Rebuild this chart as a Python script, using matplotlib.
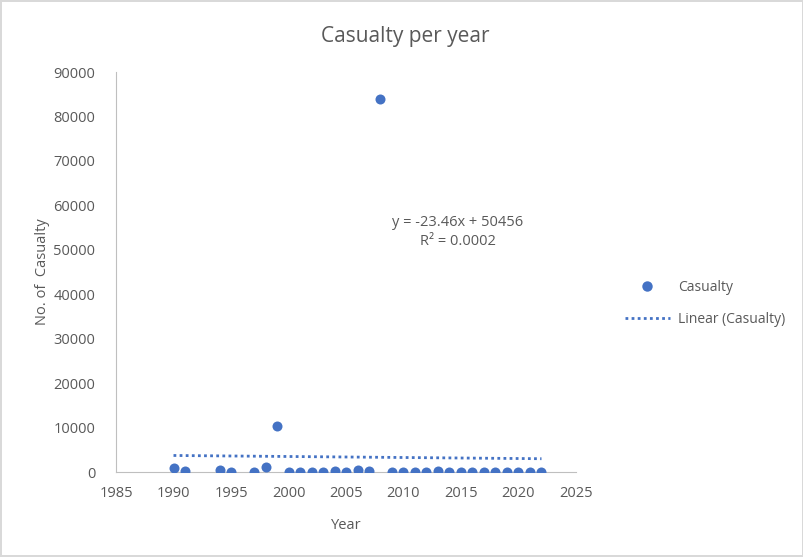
import numpy as np
import matplotlib.pyplot as plt
from matplotlib.lines import Line2D

plt.rcParams['font.family'] = ['Open Sans', 'DejaVu Sans']

years = [1990, 1991, 1994, 1995, 1997, 1998, 1999, 2000, 2001, 2002, 2003, 2004,
         2005, 2006, 2007, 2008, 2009, 2010, 2011, 2012, 2013, 2014, 2015, 2016,
         2017, 2018, 2019, 2020, 2021, 2022]
casualty = [900, 300, 500, 100, 100, 1100, 10400, 50, 50, 50, 100, 300,
            50, 500, 300, 84000, 50, 50, 50, 50, 300, 50, 50, 50,
            50, 50, 50, 50, 50, 50]

eq_text = "y = -23.46x + 50456\nR² = 0.0002"
blue = '#4472C4'
grey = '#595959'

fig = plt.figure(figsize=(8.04, 5.57), dpi=100)
fig.patch.set_edgecolor('#D9D9D9')
fig.patch.set_linewidth(1.5)
ax = fig.add_axes([0.1443, 0.1526, 0.5721, 0.7181])

ax.scatter(years, casualty, s=52, color=blue, zorder=3, linewidths=0)

# linear trendline over the data range
coef = np.polyfit(years, casualty, 1)
xs = np.array([min(years), max(years)])
ax.plot(xs, np.polyval(coef, xs), color=blue, linestyle=(0, (1, 1.2)), linewidth=2)

ax.text(2014.7, 54000, eq_text, ha='center', va='center', fontsize=10.5,
        color=grey, linespacing=1.4)

ax.set_xlim(1985, 2025)
ax.set_ylim(0, 90000)
ax.set_xticks(range(1985, 2026, 5))
ax.set_yticks(range(0, 90001, 10000))
ax.tick_params(length=0, labelsize=10.5, labelcolor=grey)
ax.tick_params(axis='y', pad=15)
ax.tick_params(axis='x', pad=10)
for side in ['top', 'right']:
    ax.spines[side].set_visible(False)
for side in ['left', 'bottom']:
    ax.spines[side].set_color('#BFBFBF')
fig.text(0.504, 0.935, "Casualty per year", ha='center', va='center',
         fontsize=15, color=grey)
ax.set_xlabel("Year", fontsize=10.5, color=grey, labelpad=12)
ax.set_ylabel("No. of  Casualty", fontsize=10.5, color=grey, labelpad=2)

handles = [Line2D([], [], marker='o', linestyle='none', color=blue, markersize=7.5,
                  markeredgewidth=0),
           Line2D([], [], color=blue, linestyle=(0, (1, 1.2)), linewidth=2)]
fig.legend(handles, ['Casualty', 'Linear (Casualty)'], loc='center left',
           bbox_to_anchor=(0.762, 0.455), frameon=False, fontsize=10,
           labelcolor=grey, handlelength=3.2, labelspacing=1.2, handletextpad=0.6)

fig.savefig('out.png', dpi=100)
